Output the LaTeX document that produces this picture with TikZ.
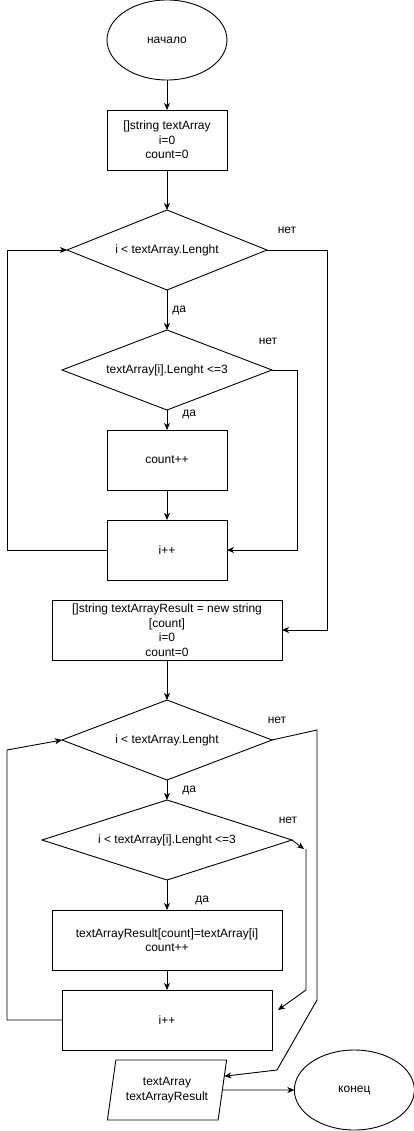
\documentclass[tikz,border=0pt]{standalone}
\usepackage{fontspec}
\setmainfont{Liberation Sans}
\usetikzlibrary{shapes.geometric, arrows.meta, positioning, calc}

\begin{document}
\begin{tikzpicture}[
        x=1pt, y=-1pt,
        node distance=30pt,
        base/.style={
            draw,
            line width=0.9pt,
            inner sep=0pt,
            outer sep=0pt,
            align=center,
            font=\fontsize{12}{14.5}\selectfont
        },
        box/.style={base, rectangle, minimum width=120pt, minimum height=60pt},
        decision/.style={base, diamond, aspect=2.5, minimum width=200pt, minimum height=80pt},
        terminal/.style={base, ellipse, minimum width=120pt, minimum height=80pt},
        io/.style={
            base,
            trapezium,
            trapezium left angle=75,
            trapezium right angle=105,
            trapezium stretches=true,
            minimum width=120pt,
            minimum height=60pt
        },
        arrow/.style={-{Stealth[length=7pt,width=6pt,inset=2pt]}, line width=0.9pt},
        lbl/.style={inner sep=0pt, font=\fontsize{12}{14.5}\selectfont}
    ]
        \useasboundingbox (0,0) rectangle (413,1131);

        \node[terminal] (start) at (167,40) {начало};

        \node[box, below=30pt of start] (init) {[]string textArray\\i=0\\count=0};

        \node[decision, below=40pt of init] (cond1) {i < textArray.Lenght};

        \node[decision, minimum width=210pt, below=40pt of cond1] (len1) {textArray[i].Lenght <=3};

        \node[box, below=20pt of len1] (cnt) {count++};

        \node[box, below=30pt of cnt] (inc1) {i++};

        \node[box, minimum width=230pt, below=20pt of inc1] (res) {[]string textArrayResult = new string\\{[count]}\\i=0\\count=0};

        \node[decision, minimum width=210pt, below=40pt of res] (cond2) {i < textArray.Lenght};

        \node[decision, minimum width=250pt, below=20pt of cond2] (len2) {i < textArray[i].Lenght <=3};

        \node[box, minimum width=230pt, below=30pt of len2] (copy) {textArrayResult[count]=textArray[i]\\count++};

        \node[box, minimum width=210pt, below=20pt of copy] (inc2) {i++};

        \node[io, below=10pt of inc2] (out) {textArray\\textArrayResult};

        \node[terminal, right=72pt of out] (stop) {конец};

        % labels of the branches
        \node[lbl] (no1) at ([xshift=20pt,yshift=20pt]cond1.east) {нет};
        \node[lbl] (no2) at ([xshift=-4pt,yshift=29pt]len1.east) {нет};
        \node[lbl] (no3) at ([xshift=5pt,yshift=20pt]cond2.east) {нет};
        \node[lbl] (no4) at ([xshift=-4pt,yshift=20pt]len2.east) {нет};

        \draw[arrow] (start) -- (init);
        \draw[arrow] (init) -- (cond1);
        \draw[arrow] (cond1) -- node[lbl, right=5pt] (yes1) {да} (len1);
        \draw[arrow] (len1) -- node[lbl, right=15pt, pos=0.2] (yes2) {да} (cnt);
        \draw[arrow] (cnt) -- (inc1);
        \draw[arrow] (len1.east) -- ++(25,0) |- (inc1.east);
        \draw[arrow] (inc1.west) -- ++(-100,0) |- (cond1.west);
        \draw[arrow] (cond1.east) -- ++(60,0) |- (res.east);

        \draw[arrow] (res) -- (cond2);
        \draw[arrow] (cond2) -- node[lbl, right=15pt] (yes3) {да} (len2);
        \draw[arrow] (len2) -- node[lbl, right=28pt, pos=0.67] (yes4) {да} (copy);
        \draw[arrow] (copy) -- (inc2);
        \draw[arrow] (inc2.west) -- ++(-55,0) -- ++(0,-270) -- (cond2.west);
        \draw[arrow] (cond2.east) -- ++(45,-10) -- ++(0,270) -- ++(-40,70)
            -- ($(out.top right corner)!0.27!(out.bottom right corner)$);
        \coordinate (gap) at ([xshift=12pt,yshift=-9pt]len2.east);
        \draw[arrow] (len2.east) -- (gap);
        \draw[arrow] (gap) ++(2,0) -- ++(0,141) -- ([xshift=6pt,yshift=10pt]inc2.east);
        \draw[arrow] (out) -- (stop);

    \end{tikzpicture}
\end{document}
